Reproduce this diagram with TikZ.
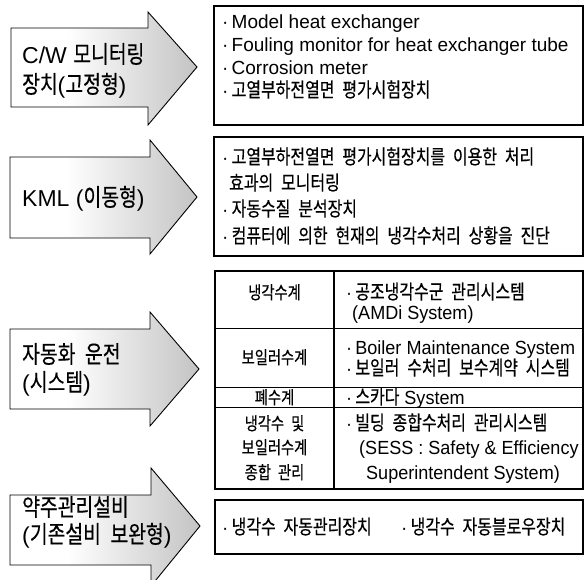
\documentclass[tikz,border=0pt]{standalone}
\usepackage{fontspec}
\setmainfont{Liberation Sans}
\newfontfamily\tabfont{Liberation Sans}[FakeStretch=0.95]
\newfontfamily\krfont{Noto Sans CJK KR}[Scale=1.05,FakeStretch=0.8,WordSpace=2.2,FakeBold=0.4]
\newcommand\hg[1]{{\krfont #1}}
\pgfdeclarehorizontalshading{arrowsh}{100bp}{color(0bp)=(white); color(40bp)=(white); color(100bp)=(black!40)}
\tikzset{
  arrowshape/.style={draw=black, line width=0.9pt, shading=arrowsh, line join=miter},
  boxshape/.style={draw=black, line width=1.1pt},
  txt/.style={anchor=base west, inner sep=0pt, font=\fontsize{19}{23}\selectfont},
  ttxt/.style={anchor=base west, inner sep=0pt, font=\fontsize{19}{23}\tabfont},
  ctxt/.style={anchor=base, inner sep=0pt, font=\fontsize{17}{23}\tabfont},
  lbl/.style={anchor=base west, inner sep=0pt, font=\fontsize{23}{28}\selectfont},
}
\begin{document}
\begin{tikzpicture}[x=1pt,y=-1pt]
\path[use as bounding box] (0,0) rectangle (586,579);
\clip (0,0) rectangle (586,579);
% arrows
\path[arrowshape] (11,28) -- (148,28) -- (148,12) -- (197,67) -- (148,125) -- (148,107) -- (11,107) -- cycle;
\path[arrowshape] (10,157) -- (150,157) -- (150,140) -- (197,197) -- (150,254) -- (150,238) -- (10,238) -- cycle;
\path[arrowshape] (10,329) -- (150,329) -- (150,312) -- (199,369) -- (150,426) -- (150,409) -- (10,409) -- cycle;
\path[arrowshape] (10,495) -- (151,495) -- (151,468) -- (200,526) -- (151,586) -- (151,565) -- (10,565) -- cycle;
% arrow labels
\node[lbl] (a1a) at (22,63) {C/W \hg{모니터링}};
\node[lbl] (a1b) at (22,93) {\hg{장치}(\hg{고정형})};
\node[lbl] (a2) at (22,206) {KML (\hg{이동형})};
\node[lbl] (a3a) at (22,363) {\hg{자동화 운전}};
\node[lbl] (a3b) at (22,391) {(\hg{시스템})};
\node[lbl] (a4a) at (22,516) {\hg{약주관리설비}};
\node[lbl] (a4b) at (22,543) {(\hg{기존설비 보완형})};
% box 1
\draw[boxshape] (214,6) rectangle (583,125);
\node[txt] (b1a) at (222,28) {·\,Model heat exchanger};
\node[txt] (b1b) at (222,51) {·\,Fouling monitor for heat exchanger tube};
\node[txt] (b1c) at (222,74) {·\,Corrosion meter};
\node[txt] (b1d) at (222,97) {·\,\hg{고열부하전열면 평가시험장치}};
% box 2
\draw[boxshape] (214,137) rectangle (583,256);
\node[txt] (b2a) at (222,164) {·\,\hg{고열부하전열면 평가시험장치를 이용한 처리}};
\node[txt] (b2b) at (229,190) {\hg{효과의 모니터링}};
\node[txt] (b2c) at (222,216) {·\,\hg{자동수질 분석장치}};
\node[txt] (b2d) at (222,243) {·\,\hg{컴퓨터에 의한 현재의 냉각수처리 상황을 진단}};
% table
\draw[boxshape] (215,271) rectangle (583,489);
\draw[boxshape] (334,271) -- (334,489);
\draw[line width=0.8pt] (215,328) -- (583,328);
\draw[line width=0.8pt] (215,387) -- (583,387);
\draw[line width=0.8pt] (215,407) -- (583,407);
\node[ctxt] (t1l) at (274.5,299) {\hg{냉각수계}};
\node[ttxt] (t1a) at (346,299) {·\,\hg{공조냉각수군 관리시스템}};
\node[ttxt] (t1b) at (352,319) {(AMDi System)};
\node[ctxt] (t2l) at (274.5,364) {\hg{보일러수계}};
\node[ttxt] (t2a) at (346,354) {·\,Boiler Maintenance System};
\node[ttxt] (t2b) at (346,375) {·\,\hg{보일러 수처리 보수계약 시스템}};
\node[ctxt] (t3l) at (274.5,404) {\hg{폐수계}};
\node[ttxt] (t3a) at (346,404) {·\,\hg{스카다} System};
\node[ctxt] (t4a) at (274.5,430) {\hg{냉각수 및}};
\node[ctxt] (t4b) at (274.5,454) {\hg{보일러수계}};
\node[ctxt] (t4c) at (274.5,479) {\hg{종합 관리}};
\node[ttxt] (t4d) at (346,430) {·\,\hg{빌딩 종합수처리 관리시스템}};
\node[ttxt] (t4e) at (359,454) {(SESS : Safety \& Efficiency};
\node[ttxt] (t4f) at (366,479) {Superintendent System)};
% box 4
\draw[boxshape] (215,500) rectangle (583,554);
\node[txt] (b4a) at (222,534) {·\,\hg{냉각수 자동관리장치}};
\node[txt] (b4b) at (401,534) {·\,\hg{냉각수 자동블로우장치}};
\end{tikzpicture}
\end{document}
